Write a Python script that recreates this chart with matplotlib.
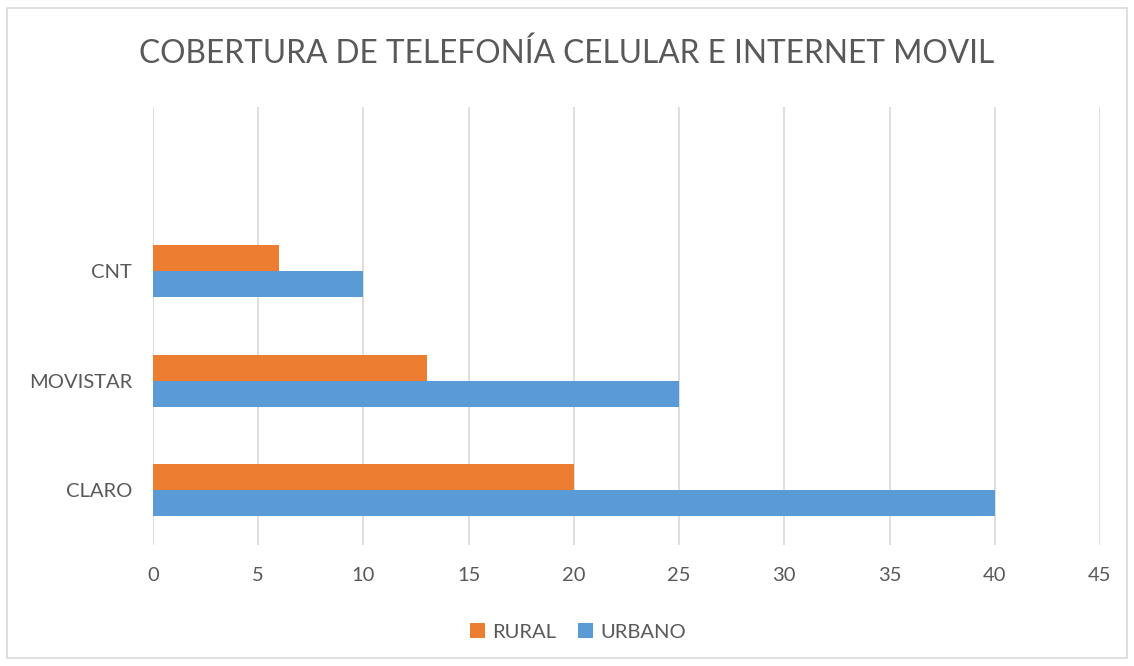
import matplotlib.pyplot as plt
import numpy as np
from matplotlib.patches import Rectangle

categorias = ['CLARO', 'MOVISTAR', 'CNT', '']
rural = [20, 13, 6, 0]
urbano = [40, 25, 10, 0]

plt.rcParams['font.family'] = ['Lato', 'DejaVu Sans']
gris = '#595959'

fig = plt.figure(figsize=(11.34, 6.66), dpi=100)
ax = fig.add_axes([153/1134, 1 - 545/666, (1100 - 153)/1134, (545 - 107)/666])

y = np.arange(len(categorias))
h = 0.237
ax.barh(y[:3] + h/2, rural[:3], height=h, color='#ED7D31', label='RURAL', zorder=3)
ax.barh(y[:3] - h/2, urbano[:3], height=h, color='#5B9BD5', label='URBANO', zorder=3)

ax.set_xlim(0, 45)
ax.set_ylim(-0.5, 3.5)
ax.set_xticks(range(0, 46, 5))
ax.set_yticks(y[:3])
ax.set_yticklabels(categorias[:3])
ax.tick_params(axis='both', length=0, labelsize=14.5, colors=gris)
ax.tick_params(axis='x', pad=16)
ax.tick_params(axis='y', pad=15)
ax.grid(axis='x', color='#d9d9d9', linewidth=1.2, zorder=0)
for s in ax.spines.values():
    s.set_visible(False)

fig.text(0.5, 1 - 54/666, 'COBERTURA DE TELEFONÍA CELULAR E INTERNET MOVIL',
         ha='center', va='center', fontsize=22.8, color=gris)

fig.legend(loc='center', bbox_to_anchor=(578/1134, 1 - 632/666), ncol=2, frameon=False,
           fontsize=14.5, handlelength=0.75, handleheight=0.75, columnspacing=1.1,
           handletextpad=0.35, labelcolor=gris)

fig.patches.append(Rectangle((7/1134, 8/666), (1127 - 7)/1134, (658 - 8)/666,
                             transform=fig.transFigure, fill=False,
                             edgecolor='#d9d9d9', linewidth=1.2))

fig.savefig('out.png', dpi=100)
